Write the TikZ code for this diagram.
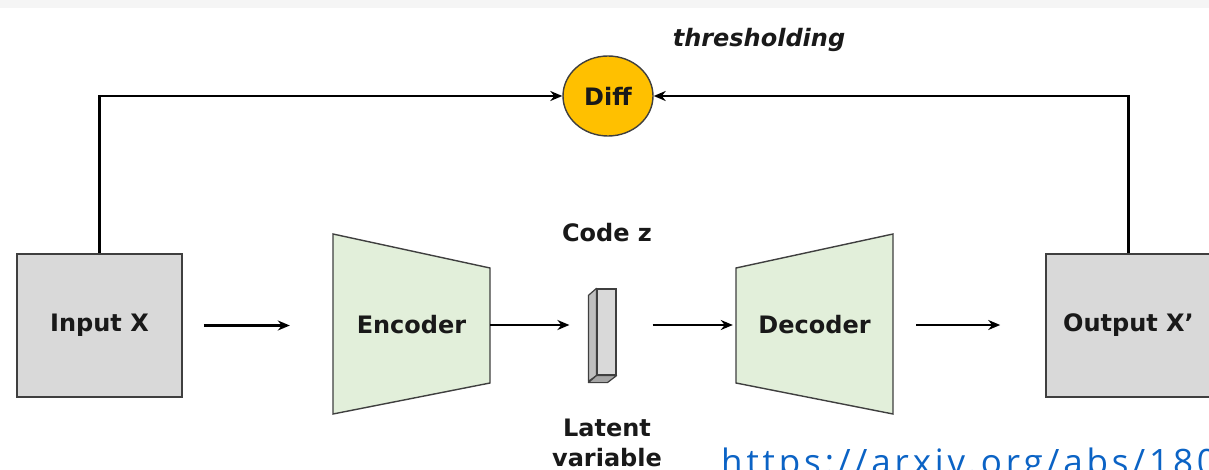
\documentclass[tikz,border=0pt]{standalone}
\usepackage{fontspec}
\setmainfont{DejaVu Sans}
\newfontfamily\linkfont[LetterSpace=11]{Open Sans}
\usetikzlibrary{arrows.meta,shapes.geometric}
\definecolor{boxgray}{HTML}{D9D9D9}
\definecolor{edgegray}{HTML}{3F3F3F}
\definecolor{codegreen}{HTML}{E2EFDA}
\definecolor{diffgold}{HTML}{FFC000}
\definecolor{linkblue}{HTML}{0B63C5}
\begin{document}
\begin{tikzpicture}[x=1pt,y=-1pt,
  lbl/.style={font=\fontsize{24}{30}\selectfont\bfseries, text=black!90},
  databox/.style={draw=edgegray, line width=1.6pt, fill=boxgray, minimum width=165pt, minimum height=143pt, inner sep=0pt},
  coder/.style={draw=edgegray, line width=1.4pt, fill=codegreen},
  flow/.style={line width=2.4pt, -{Stealth[length=12pt,width=10pt]}},
]
\useasboundingbox (0,0) rectangle (1209,470);
\clip (0,0) rectangle (1209,470);
\fill[black!4] (0,0) rectangle (1209,8);

% input and output blocks
\node[databox] (in) at (99.5,325.5) {};
\node[lbl] at (in.center) {Input X};
\node[databox] (out) at (1128.5,325.5) {};
\node[lbl] at (out.center) {Output X’};

% encoder and decoder trapezoids
\draw[coder] (333,234) -- (490,268) -- (490,383) -- (333,414) -- cycle;
\node[lbl, minimum width=157pt, minimum height=180pt, inner sep=0pt] (enc) at (411.5,325) {Encoder};
\draw[coder] (736,268) -- (893,234) -- (893,414) -- (736,383) -- cycle;
\node[lbl, minimum width=157pt, minimum height=180pt, inner sep=0pt] (dec) at (814.5,325) {Decoder};

% latent code bar
\node[draw=edgegray, line width=1.2pt, fill=boxgray, minimum width=19pt, minimum height=86pt, inner sep=0pt] (z) at (606.5,332) {};
\draw[edgegray, line width=1.2pt, fill=black!25, line join=round]
  (z.north west) -- ++(-8,7) -- ++(0,86) -- (z.south west) -- cycle;
\draw[edgegray, line width=1.2pt, fill=black!35, line join=round]
  (z.south west) -- ++(-8,7) -- ++(19,0) -- (z.south east) -- cycle;
\node[lbl] (codez) at (607,233) {Code z};
\node[lbl, align=center] (latent) at (607,443) {Latent\\variable};

% difference node
\node[ellipse, draw=edgegray, line width=1.4pt, fill=diffgold, minimum width=90pt, minimum height=80pt, inner sep=0pt] (diff) at (608,96) {};
\node[lbl] at (diff.center) {Diff};
\node[font=\fontsize{24}{30}\selectfont\bfseries\itshape, text=black!90] (thr) at (759,40) {thresholding};

% main data flow
\draw[flow, shorten <=21pt, shorten >=43pt] (in.east) -- (enc.west |- in.east);
\draw[flow, shorten >=27pt] (enc.east) -- (z.west |- enc.east);
\draw[flow, shorten <=36pt, shorten >=3pt] (z.east |- dec.west) -- (dec.west);
\draw[flow, shorten <=23pt, shorten >=45pt] (dec.east) -- (out.west |- dec.east);

% feedback to the difference node
\draw[flow] (in.north) |- (diff.west);
\draw[flow] (out.north) |- (diff.east);

% reference link
\node[anchor=base west, inner sep=0pt, text=linkblue, font=\linkfont\fontsize{35}{40}\selectfont] (url) at (721,474) {https://arxiv.org/abs/180};
\end{tikzpicture}
\end{document}
